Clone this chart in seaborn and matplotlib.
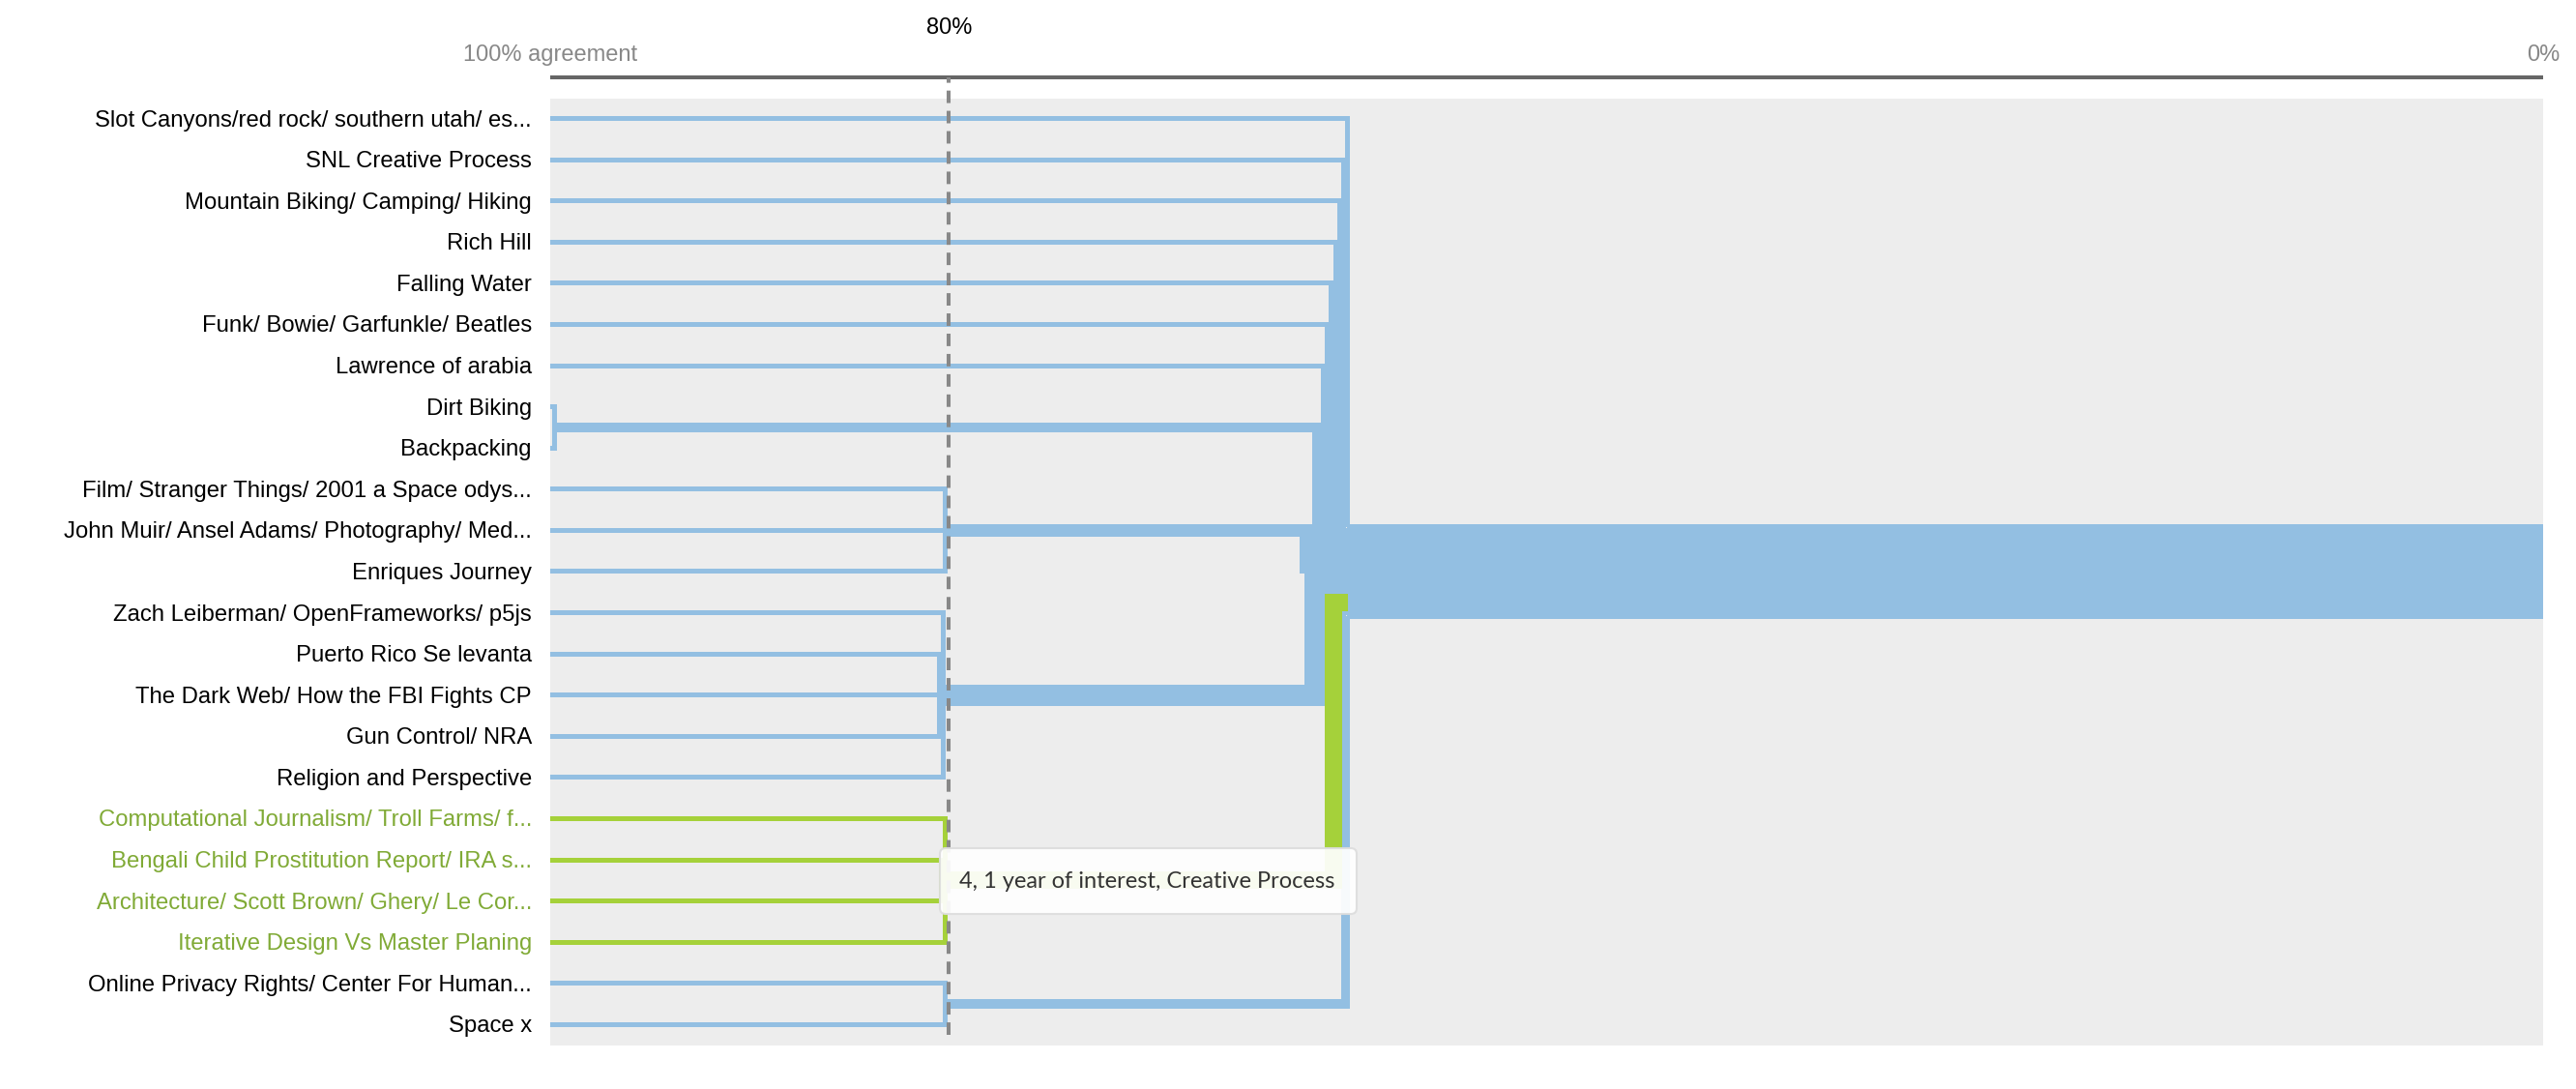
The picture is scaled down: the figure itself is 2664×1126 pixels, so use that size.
import numpy as np
import pandas as pd
import matplotlib.pyplot as plt
import seaborn as sns
from matplotlib.patches import FancyBboxPatch

# 行ラベル（上から順）
labels = [
    "Slot Canyons/red rock/ southern utah/ es...",
    "SNL Creative Process",
    "Mountain Biking/ Camping/ Hiking",
    "Rich Hill",
    "Falling Water",
    "Funk/ Bowie/ Garfunkle/ Beatles",
    "Lawrence of arabia",
    "Dirt Biking",
    "Backpacking",
    "Film/ Stranger Things/ 2001 a Space odys...",
    "John Muir/ Ansel Adams/ Photography/ Med...",
    "Enriques Journey",
    "Zach Leiberman/ OpenFrameworks/ p5js",
    "Puerto Rico Se levanta",
    "The Dark Web/ How the FBI Fights CP",
    "Gun Control/ NRA",
    "Religion and Perspective",
    "Computational Journalism/ Troll Farms/ f...",
    "Bengali Child Prostitution Report/ IRA s...",
    "Architecture/ Scott Brown/ Ghery/ Le Cor...",
    "Iterative Design Vs Master Planing",
    "Online Privacy Rights/ Center For Human...",
    "Space x",
]
green_rows = [17, 18, 19, 20]

# クラスタ（行番号）と合意度(%)
sub_clusters = [[7, 8], [9, 10, 11], [12, 13, 14, 15, 16], [17, 18, 19, 20], [21, 22]]
sub_levels = [99.8, 80.2, 80.3, 80.2, 80.2]
root_level = 60.0
cut_level = 80
tooltip = "4, 1 year of interest, Creative Process"

blue = "#93bfe2"
green = "#a5d13a"
label_green = "#80aa36"

sns.set_style("white")
plt.rcParams['font.family'] = ['Liberation Sans', 'DejaVu Sans']

n = len(labels)
wy = 0.1     # 1本あたりの太さ（行単位）
wx = 0.207   # 1本あたりの太さ（%単位）

paths = {i: [(100.0, float(i))] for i in range(n)}
cur_y = {i: float(i) for i in range(n)}


def merge(members, level):
    members = sorted(members)
    c = np.mean(members)
    k = len(members)
    slots = {m: c + (j - (k - 1) / 2) * wy for j, m in enumerate(members)}
    down = [m for m in members if slots[m] > cur_y[m] + 1e-9]
    up = [m for m in members if slots[m] < cur_y[m] - 1e-9]
    xs = {}
    for j, m in enumerate(down):
        xs[m] = level + j * wx
    for j, m in enumerate(reversed(up)):
        xs[m] = level + j * wx
    for m in members:
        if m in xs:
            paths[m].append((xs[m], cur_y[m]))
            paths[m].append((xs[m], slots[m]))
        cur_y[m] = slots[m]


for members, level in zip(sub_clusters, sub_levels):
    merge(members, level)
merge(list(range(n)), root_level)

# ルート以降は全体クラスタの色（青）
rows = []
for i in range(n):
    grp = 'green' if i in green_rows else 'blue'
    pre = paths[i] + [(root_level, cur_y[i])]
    post = [(root_level, cur_y[i]), (0.0, cur_y[i])]
    for x, y in pre:
        rows.append({'unit': f'{i}a', 'x': x, 'y': y, 'group': grp})
    for x, y in post:
        rows.append({'unit': f'{i}b', 'x': x, 'y': y, 'group': 'blue'})
df = pd.DataFrame(rows)

fig = plt.figure(figsize=(26.64, 11.26), dpi=100)
ax = fig.add_axes([569 / 2664, 45 / 1126, 2061 / 2664, 979 / 1126])
ax.set_facecolor('#ededed')

sns.lineplot(data=df, x='x', y='y', hue='group', units='unit', estimator=None,
             sort=False, palette={'blue': blue, 'green': green},
             linewidth=3.3, legend=False, ax=ax)
for line in ax.lines:
    line.set_solid_joinstyle('round')
    line.set_solid_capstyle('butt')
    line.set_antialiased(False)

ax.set_xlim(100, 0)
ax.set_ylim(22.52, -0.47)
ax.set_xticks([])
ax.set_xlabel('')
ax.set_ylabel('')
ax.set_yticks(range(n))
ax.set_yticklabels(labels, fontsize=17.2)
ax.tick_params(axis='y', length=0, pad=13.7)
for i, t in enumerate(ax.get_yticklabels()):
    t.set_color(label_green if i in green_rows else 'black')
for s in ax.spines.values():
    s.set_visible(False)

# 上部の軸線とラベル
trans = ax.get_xaxis_transform()
ax.plot([100, 0], [1.0225, 1.0225], transform=trans, color='#666666',
        lw=2.9, solid_capstyle='butt', clip_on=False)
ax.text(100, 1.046, '100% agreement', transform=trans, ha='center', va='center',
        fontsize=17, color='#888888')
ax.text(0, 1.046, '0%', transform=trans, ha='center', va='center',
        fontsize=17, color='#888888')
ax.text(cut_level, 1.075, f'{cut_level}%', transform=trans, ha='center', va='center',
        fontsize=17, color='black')
ax.plot([cut_level, cut_level], [0.011, 1.0225], transform=trans, color='#888888',
        lw=2.9, linestyle=(0, (3.2, 2.0)), clip_on=False, zorder=5)

# ツールチップ
box = FancyBboxPatch((972 / 100, (1126 - 945) / 100), 431 / 100, 68 / 100,
                     boxstyle='round,pad=0,rounding_size=0.06',
                     transform=fig.dpi_scale_trans, facecolor='white',
                     edgecolor='#dddddd', linewidth=1.5, alpha=0.93, zorder=10)
fig.add_artist(box)
fig.text(992 / 2664, (1126 - 911) / 1126, tooltip, ha='left', va='center',
         fontsize=17, color='#333333', family=['Lato', 'DejaVu Sans'], zorder=11)

fig.savefig('out.png', dpi=100)
